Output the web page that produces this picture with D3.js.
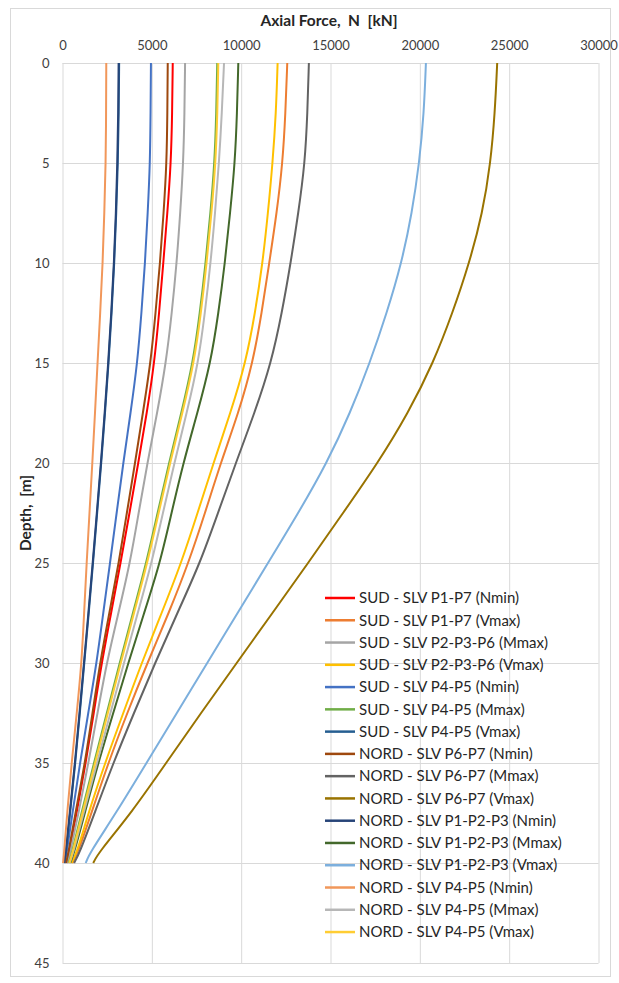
<!DOCTYPE html>
<html><head><meta charset="utf-8">
<script src="https://cdn.jsdelivr.net/npm/d3@7"></script>
<style>body{margin:0;background:#fff}svg{display:block}</style>
</head><body><svg id="c" width="619" height="983"></svg>
<script>
// Depth sampling points [m]
const depths = [0, 2.5, 5, 7.5, 10, 12.5, 15, 17.5, 20, 22.5, 25, 27.5, 30, 32.5, 35, 37.5, 39.5, 40];

// Axial force N [kN] per series, at the depths above
const sudP1P7Nmin      = [6170, 6140, 6070, 5870, 5640, 5410, 5140, 4720, 4240, 3750, 3250, 2720, 2190, 1750, 1300, 790, 370, 230];
const sudP1P7Vmax      = [12580, 12480, 12320, 11990, 11570, 11150, 10650, 9850, 8850, 7980, 7050, 5950, 4750, 3620, 2560, 1620, 850, 550];
const sudP2P3P6Mmax    = [6860, 6830, 6760, 6590, 6390, 6120, 5790, 5300, 4750, 4260, 3780, 3130, 2470, 1960, 1450, 900, 420, 280];
const sudP2P3P6Vmax    = [12040, 11950, 11760, 11500, 11200, 10780, 10250, 9400, 8450, 7560, 6650, 5550, 4430, 3400, 2380, 1450, 800, 500];
const sudP4P5Nmin      = [4950, 4930, 4900, 4770, 4620, 4420, 4190, 3810, 3400, 3030, 2660, 2280, 1910, 1440, 980, 560, 230, 130];
const sudP4P5Mmax      = [8660, 8610, 8510, 8280, 8010, 7690, 7300, 6650, 5960, 5320, 4690, 3940, 3200, 2480, 1760, 1060, 530, 350];
const sudP4P5Vmax      = [3170, 3150, 3100, 3010, 2900, 2750, 2580, 2380, 2170, 1940, 1710, 1470, 1220, 970, 720, 420, 200, 100];
const nordP6P7Nmin     = [5890, 5870, 5830, 5660, 5460, 5210, 4930, 4500, 4060, 3600, 3150, 2620, 2100, 1680, 1260, 720, 330, 200];
const nordP6P7Mmax     = [13790, 13710, 13570, 13200, 12770, 12280, 11680, 10750, 9700, 8700, 7700, 6430, 5180, 4000, 2840, 1800, 950, 650];
const nordP6P7Vmax     = [24330, 24200, 23960, 23510, 22770, 21830, 20750, 19350, 17650, 15700, 13750, 11750, 9750, 7750, 5800, 3850, 2000, 1720];
const nordP1P2P3Nmin   = [3140, 3120, 3070, 2990, 2880, 2730, 2560, 2360, 2150, 1920, 1690, 1450, 1200, 950, 700, 400, 180, 90];
const nordP1P2P3Mmax   = [9840, 9770, 9650, 9380, 9090, 8730, 8290, 7550, 6760, 6100, 5460, 4570, 3680, 2840, 2000, 1250, 650, 430];
const nordP1P2P3Vmax   = [20340, 20230, 19970, 19560, 18980, 18150, 17200, 16100, 14800, 13200, 11500, 9800, 8100, 6400, 4700, 3000, 1520, 1300];
const nordP4P5Nmin     = [2450, 2440, 2420, 2340, 2250, 2110, 1960, 1820, 1670, 1510, 1350, 1210, 1070, 800, 510, 260, 90, 30];
const nordP4P5Mmax     = [9040, 8920, 8760, 8540, 8290, 7970, 7600, 6950, 6260, 5620, 4990, 4210, 3440, 2680, 1930, 1180, 600, 400];
const nordP4P5Vmax     = [8720, 8670, 8570, 8340, 8070, 7750, 7360, 6710, 6020, 5380, 4750, 4000, 3260, 2540, 1820, 1120, 560, 380];

const seriesNames = [
  "SUD - SLV P1-P7 (Nmin)", "SUD - SLV P1-P7 (Vmax)", "SUD - SLV P2-P3-P6 (Mmax)", "SUD - SLV P2-P3-P6 (Vmax)",
  "SUD - SLV P4-P5 (Nmin)", "SUD - SLV P4-P5 (Mmax)", "SUD - SLV P4-P5 (Vmax)",
  "NORD - SLV P6-P7 (Nmin)", "NORD - SLV P6-P7 (Mmax)", "NORD - SLV P6-P7 (Vmax)",
  "NORD - SLV P1-P2-P3 (Nmin)", "NORD - SLV P1-P2-P3 (Mmax)", "NORD - SLV P1-P2-P3 (Vmax)",
  "NORD - SLV P4-P5 (Nmin)", "NORD - SLV P4-P5 (Mmax)", "NORD - SLV P4-P5 (Vmax)"
];
const seriesValues = [
  sudP1P7Nmin, sudP1P7Vmax, sudP2P3P6Mmax, sudP2P3P6Vmax, sudP4P5Nmin, sudP4P5Mmax, sudP4P5Vmax,
  nordP6P7Nmin, nordP6P7Mmax, nordP6P7Vmax, nordP1P2P3Nmin, nordP1P2P3Mmax, nordP1P2P3Vmax,
  nordP4P5Nmin, nordP4P5Mmax, nordP4P5Vmax
];
const seriesColors = [
  "#FF0000", "#ED7D31", "#A5A5A5", "#FFC000", "#4472C4", "#70AD47", "#255E91",
  "#9E480E", "#636363", "#997300", "#264478", "#43682B", "#7CAFDD",
  "#F1975A", "#B7B7B7", "#FFCD33"
];
const xTicks = [0, 5000, 10000, 15000, 20000, 25000, 30000];
const yTicks = [0, 5, 10, 15, 20, 25, 30, 35, 40, 45];

const FONT = "Lato, 'Liberation Sans', Arial, sans-serif";
const svg = d3.select("#c");
const pLeft = 62.5, pRight = 598.5, pTop = 63, pBottom = 963;
const x = d3.scaleLinear().domain([0, 30000]).range([pLeft, pRight]);
const y = d3.scaleLinear().domain([0, 45]).range([pTop, pBottom]);

// chart border
svg.append("rect").attr("x", 10.5).attr("y", 8.5).attr("width", 600).attr("height", 968)
  .attr("fill", "#fff").attr("stroke", "#d9d9d9");

// gridlines
const gx = svg.append("g").attr("transform", `translate(0,${pTop})`)
  .call(d3.axisBottom(x).tickValues(xTicks).tickSize(pBottom - pTop).tickFormat(""));
const gy = svg.append("g").attr("transform", `translate(${pLeft},0)`)
  .call(d3.axisRight(y).tickValues(yTicks).tickSize(pRight - pLeft).tickFormat(""));
[gx, gy].forEach(g => { g.select(".domain").remove(); g.selectAll("line").attr("stroke", "#d9d9d9"); });

// axes labels
const ax = svg.append("g").attr("transform", `translate(0,${pTop})`)
  .call(d3.axisTop(x).tickValues(xTicks).tickSize(0).tickPadding(13).tickFormat(d3.format("d")));
const ay = svg.append("g").attr("transform", `translate(${pLeft},0)`)
  .call(d3.axisLeft(y).tickValues(yTicks).tickSize(0).tickPadding(13));
[ax, ay].forEach(g => {
  g.select(".domain").remove();
  g.selectAll("text").attr("font-family", FONT).attr("font-size", 13).attr("fill", "#404040");
});

// titles
svg.append("text").attr("x", 329).attr("y", 26).attr("text-anchor", "middle")
  .style("white-space", "pre").attr("font-family", FONT).attr("font-size", 15.5).attr("font-weight", "bold")
  .attr("fill", "#262626").text("Axial Force,  N  [kN]");
svg.append("text").attr("transform", `translate(31,${(pTop + pBottom) / 2}) rotate(-90)`)
  .attr("text-anchor", "middle").style("white-space", "pre")
  .attr("font-family", FONT).attr("font-size", 15.5).attr("font-weight", "bold")
  .attr("fill", "#262626").text("Depth,  [m]");

// lines
const line = d3.line().x(d => x(d[0])).y(d => y(d[1])).curve(d3.curveBasis);
const plot = svg.append("g");
seriesValues.forEach((vals, i) => {
  plot.append("path").datum(vals.map((v, k) => [v, depths[k]]))
    .attr("fill", "none").attr("stroke", seriesColors[i]).attr("stroke-width", 2)
    .attr("stroke-linejoin", "round").attr("d", line);
});

// legend
const lg = svg.append("g");
seriesNames.forEach((name, i) => {
  const yy = 598 + i * 22.27;
  lg.append("line").attr("x1", 325).attr("x2", 355).attr("y1", yy).attr("y2", yy)
    .attr("stroke", seriesColors[i]).attr("stroke-width", 2.5);
  lg.append("text").attr("x", 359).attr("y", yy).attr("dy", "0.35em")
    .attr("font-family", FONT).attr("font-size", 15).attr("fill", "#262626").text(name);
});
</script></body></html>
